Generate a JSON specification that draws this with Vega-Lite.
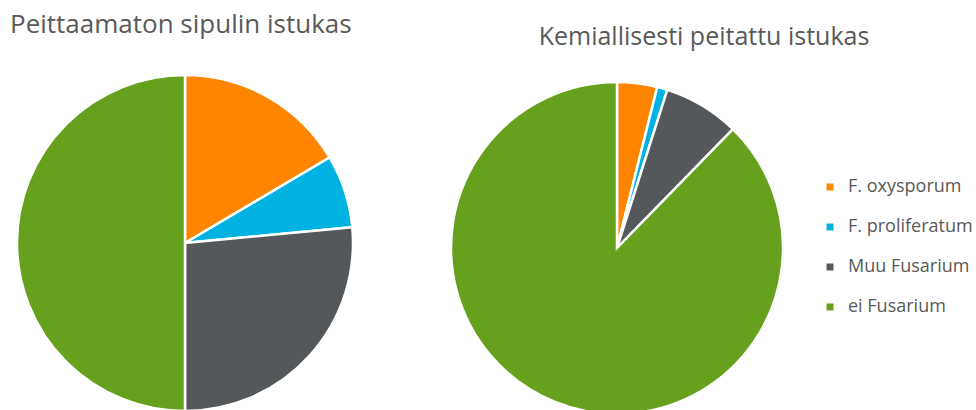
{
  "$schema": "https://vega.github.io/schema/vega-lite/v6.json",
  "padding": {"top": 12, "left": 0, "right": 0, "bottom": 0},
  "background": "white",
  "config": {
    "view": {"stroke": null},
    "font": "Open Sans",
    "title": {"font": "Open Sans", "fontSize": 26, "fontWeight": "normal", "color": "#595959"},
    "concat": {"spacing": 76}
  },
  "datasets": {
    "peittaamaton": [
      {"ryhma": "F. oxysporum", "osuus": 16.5, "jarj": 1},
      {"ryhma": "F. proliferatum", "osuus": 7.0, "jarj": 2},
      {"ryhma": "Muu Fusarium", "osuus": 26.5, "jarj": 3},
      {"ryhma": "ei Fusarium", "osuus": 50.0, "jarj": 4}
    ],
    "peitattu": [
      {"ryhma": "F. oxysporum", "osuus": 3.9, "jarj": 1},
      {"ryhma": "F. proliferatum", "osuus": 1.0, "jarj": 2},
      {"ryhma": "Muu Fusarium", "osuus": 7.4, "jarj": 3},
      {"ryhma": "ei Fusarium", "osuus": 87.7, "jarj": 4}
    ]
  },
  "hconcat": [
    {
      "title": {"text": "Peittaamaton sipulin istukas", "anchor": "start", "dx": 10, "offset": 32},
      "width": 370,
      "height": 336,
      "data": {"name": "peittaamaton"},
      "mark": {"type": "arc", "radius": 168, "stroke": "white", "strokeWidth": 2.5},
      "encoding": {
        "theta": {"field": "osuus", "type": "quantitative", "stack": true},
        "order": {"field": "jarj", "type": "quantitative"},
        "color": {
          "field": "ryhma", "type": "nominal",
          "scale": {"domain": ["F. oxysporum", "F. proliferatum", "Muu Fusarium", "ei Fusarium"], "range": ["#FF8500", "#00B2E1", "#55585B", "#66A11E"]},
          "legend": {"title": null, "orient": "none", "legendX": 821, "legendY": 103, "symbolType": "square", "symbolSize": 70, "labelFontSize": 18, "labelColor": "#595959", "labelFont": "Open Sans", "rowPadding": 22, "labelOffset": 9}
        }
      }
    },
    {
      "title": {"text": "Kemiallisesti peitattu istukas", "anchor": "middle", "fontSize": 25, "dx": 87, "dy": 7, "offset": 32},
      "width": 332,
      "height": 346,
      "data": {"name": "peitattu"},
      "mark": {"type": "arc", "radius": 166, "stroke": "white", "strokeWidth": 2.5},
      "encoding": {
        "theta": {"field": "osuus", "type": "quantitative", "stack": true},
        "order": {"field": "jarj", "type": "quantitative"},
        "color": {"field": "ryhma", "type": "nominal"}
      }
    }
  ]
}
